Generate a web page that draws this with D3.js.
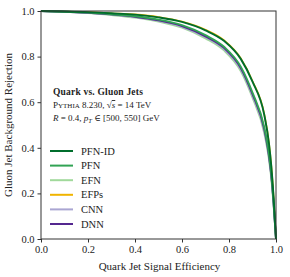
<!DOCTYPE html>
<html>
<head>
<meta charset="utf-8">
<script src="https://cdn.jsdelivr.net/npm/d3@7"></script>
<style>
  body { margin: 0; background: #fff; }
  text { font-family: "Liberation Serif", "DejaVu Serif", serif; fill: #222; }
</style>
</head>
<body>
<div id="chart"></div>
<script>
// signal efficiency grid shared by every curve
var effGrid = [0, 0.1, 0.2, 0.3, 0.4, 0.5, 0.6, 0.7, 0.78, 0.85, 0.9, 0.95, 0.97, 0.98, 0.99, 1.0];

// background rejection per model
var rejPFNID = [1, 0.998, 0.995, 0.99, 0.984, 0.972, 0.952, 0.915, 0.868, 0.79, 0.69, 0.545, 0.42, 0.32, 0.18, 0];
var rejEFPs  = [1, 0.998, 0.995, 0.99, 0.985, 0.974, 0.954, 0.918, 0.871, 0.793, 0.693, 0.548, 0.423, 0.322, 0.182, 0];
var rejPFN   = [1, 0.997, 0.993, 0.986, 0.977, 0.962, 0.938, 0.894, 0.842, 0.756, 0.642, 0.49, 0.372, 0.285, 0.158, 0];
var rejDNN   = [1, 0.997, 0.992, 0.985, 0.975, 0.959, 0.934, 0.889, 0.837, 0.75, 0.635, 0.482, 0.365, 0.278, 0.154, 0];
var rejCNN   = [1, 0.997, 0.992, 0.984, 0.973, 0.957, 0.931, 0.885, 0.832, 0.744, 0.628, 0.475, 0.358, 0.273, 0.15, 0];
var rejEFN   = [1, 0.996, 0.991, 0.982, 0.971, 0.954, 0.927, 0.88, 0.826, 0.737, 0.62, 0.465, 0.35, 0.266, 0.145, 0];

var legendNames = ["PFN-ID", "PFN", "EFN", "EFPs", "CNN", "DNN"];
var ticks = [0, 0.2, 0.4, 0.6, 0.8, 1.0];

var models = [
    {name: "PFN-ID", values: rejPFNID, color: "#006d2c"},
    {name: "PFN", values: rejPFN, color: "#31a354"},
    {name: "EFN", values: rejEFN, color: "#a1d99b"},
    {name: "EFPs", values: rejEFPs, color: "#f0b400"},
    {name: "CNN", values: rejCNN, color: "#aaa6d2"},
    {name: "DNN", values: rejDNN, color: "#54278f"}
];

var margin = {top: 11, right: 14, bottom: 38, left: 41},
    width = 290 - margin.left - margin.right,
    height = 277 - margin.top - margin.bottom;

var x = d3.scaleLinear().domain([0, 1]).range([0, width]);
var y = d3.scaleLinear().domain([0, 1]).range([height, 0]);

var svg = d3.select("#chart").append("svg")
    .attr("width", 290)
    .attr("height", 277)
    .append("g")
    .attr("transform", "translate(" + margin.left + "," + margin.top + ")");

var line = d3.line()
    .x(function(d) { return x(d[0]); })
    .y(function(d) { return y(d[1]); })
    .curve(d3.curveMonotoneX);

// draw worst first so PFN-ID ends on top
var drawOrder = ["EFPs", "EFN", "CNN", "DNN", "PFN", "PFN-ID"];
drawOrder.forEach(function(n) {
    var m = models.find(function(d) { return d.name === n; });
    svg.append("path")
        .datum(effGrid.map(function(e, i) { return [e, m.values[i]]; }))
        .attr("fill", "none")
        .attr("stroke", m.color)
        .attr("stroke-width", n === "EFPs" ? 1.6 : 1.9)
        .attr("d", line);
});

// frame
svg.append("rect")
    .attr("width", width)
    .attr("height", height)
    .attr("fill", "none")
    .attr("stroke", "#333")
    .attr("stroke-width", 1);

var xAxis = svg.append("g")
    .attr("transform", "translate(0," + height + ")")
    .call(d3.axisBottom(x).tickValues(ticks).tickFormat(d3.format(".1f")).tickSize(3.5).tickPadding(3));
var yAxis = svg.append("g")
    .call(d3.axisLeft(y).tickValues(ticks).tickFormat(d3.format(".1f")).tickSize(3.5).tickPadding(3));

[xAxis, yAxis].forEach(function(a) {
    a.select(".domain").remove();
    a.selectAll("line").attr("stroke", "#333");
    a.selectAll("text")
        .style("font-family", "'Liberation Serif', serif")
        .style("font-size", "10.5px")
        .attr("fill", "#222");
});

svg.append("text")
    .attr("x", width / 2 + 1)
    .attr("y", height + 31)
    .attr("text-anchor", "middle")
    .style("font-size", "11px")
    .text("Quark Jet Signal Efficiency");

svg.append("text")
    .attr("transform", "translate(" + (-29) + "," + (height / 2) + ") rotate(-90)")
    .attr("text-anchor", "middle")
    .style("font-size", "11px")
    .text("Gluon Jet Background Rejection");

// annotation
var note = svg.append("g").attr("transform", "translate(12,0)");
note.append("text")
    .attr("y", 84)
    .style("font-size", "9.5px")
    .style("font-weight", "bold")
    .style("letter-spacing", "0.2px")
    .text("Quark vs. Gluon Jets");
var l2 = note.append("text").attr("y", 97).style("font-size", "9px");
l2.append("tspan").text("P");
l2.append("tspan").style("font-size", "7px").text("YTHIA");
l2.append("tspan").text(" 8.230, \u221A");
l2.append("tspan").style("font-style", "italic").style("text-decoration", "overline").text("s");
l2.append("tspan").text(" = 14 TeV");
var l3 = note.append("text").attr("y", 110).style("font-size", "9px");
l3.append("tspan").style("font-style", "italic").text("R");
l3.append("tspan").text(" = 0.4, ");
l3.append("tspan").style("font-style", "italic").text("p");
l3.append("tspan").style("font-style", "italic").style("font-size", "6.5px").attr("dy", 2).text("T");
l3.append("tspan").attr("dy", -2).text(" \u2208 [500, 550] GeV");

// legend
var legend = svg.append("g").attr("transform", "translate(9,140)");
legendNames.forEach(function(n, i) {
    var m = models.find(function(d) { return d.name === n; });
    var g = legend.append("g").attr("transform", "translate(0," + (i * 14.6) + ")");
    g.append("line")
        .attr("x1", 0).attr("x2", 23)
        .attr("stroke", m.color)
        .attr("stroke-width", 2);
    g.append("text")
        .attr("x", 31)
        .attr("y", 3.5)
        .style("font-size", "10.5px")
        .text(n);
});
</script>
</body>
</html>
